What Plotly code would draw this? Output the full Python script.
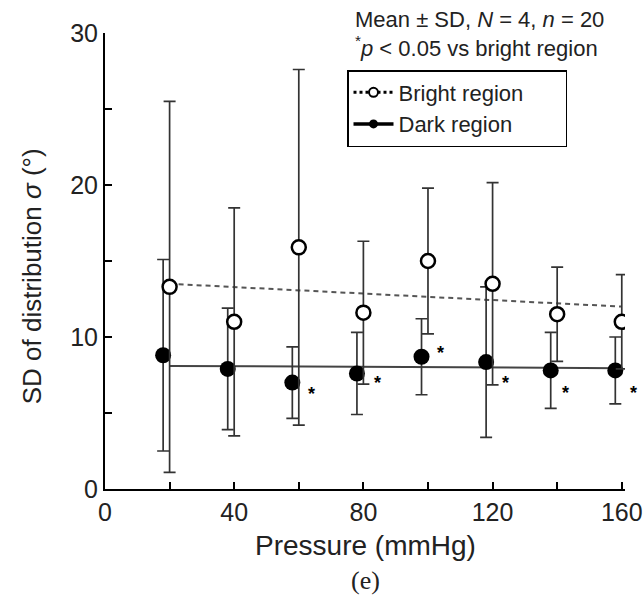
import plotly.graph_objects as go

# ---- data ----
pressure = [20, 40, 60, 80, 100, 120, 140, 160]
bright_mean = [13.3, 11.0, 15.9, 11.6, 15.0, 13.5, 11.5, 11.0]
bright_sd = [12.2, 7.5, 11.7, 4.7, 4.8, 6.65, 3.1, 3.1]
dark_mean = [8.8, 7.9, 7.0, 7.6, 8.7, 8.35, 7.8, 7.8]
dark_sd = [6.3, 4.0, 2.35, 2.7, 2.5, 4.95, 2.5, 2.2]
significant = [False, False, True, True, True, True, True, True]
fit_x = [20, 160]
bright_fit = [13.5, 12.0]
dark_fit = [8.1, 7.95]

x_tickvals = [0, 40, 80, 120, 160]
x_ticktext = ["0", "40", "80", "120", "160"]
y_tickvals = [0, 10, 20, 30]
y_ticktext = ["0", "10", "20", "30"]

# style constants
DARK_DX = -2.0
star_xshift = [0, 0, 19, 21, 19, 19, 15, 18]
star_yshift = [0, 0, -11, -10, 4, -21, -23, -23]
FONT = "Liberation Sans, Arial, sans-serif"
TXT = "#222222"
PAD = "&nbsp;" * 6

x_dark = [p + DARK_DX for p in pressure]

fig = go.Figure()

# regression / trend lines
fig.add_trace(go.Scatter(x=fit_x, y=bright_fit, mode="lines",
                         line=dict(color="#555555", width=2, dash="5px,4px"),
                         showlegend=False, hoverinfo="skip"))
fig.add_trace(go.Scatter(x=fit_x, y=dark_fit, mode="lines",
                         line=dict(color="#444444", width=2),
                         showlegend=False, hoverinfo="skip"))

# dark region points with SD bars
fig.add_trace(go.Scatter(x=x_dark, y=dark_mean, mode="markers",
                         marker=dict(color="black", size=16, symbol="circle"),
                         error_y=dict(type="data", array=dark_sd, visible=True,
                                      color="#333333", thickness=1.7, width=6),
                         showlegend=False))
# bright region points with SD bars
fig.add_trace(go.Scatter(x=pressure, y=bright_mean, mode="markers",
                         marker=dict(color="white", size=14, symbol="circle",
                                     line=dict(color="black", width=2.5)),
                         error_y=dict(type="data", array=bright_sd, visible=True,
                                      color="#333333", thickness=1.7, width=6),
                         showlegend=False))

# legend-only traces
fig.add_trace(go.Scatter(x=[None], y=[None], mode="lines+markers", name="Bright region" + PAD,
                         line=dict(color="black", width=3, dash="dot"),
                         marker=dict(color="white", size=9, line=dict(color="black", width=2))))
fig.add_trace(go.Scatter(x=[None], y=[None], mode="lines+markers", name="Dark region" + PAD,
                         line=dict(color="black", width=3.5),
                         marker=dict(color="black", size=9)))

annotations = []
for xd, ym, sig, dx, dy in zip(x_dark, dark_mean, significant, star_xshift, star_yshift):
    if sig:
        annotations.append(dict(x=xd, y=ym, xref="x", yref="y", text="<b>*</b>",
                                showarrow=False, xshift=dx, yshift=dy,
                                font=dict(family=FONT, size=18, color="black")))

annotations += [
    dict(x=0.477, y=0.9975, xref="paper", yref="paper", xanchor="left", yanchor="middle",
         align="left",
         text="Mean ± SD, <i>N</i> = 4, <i>n</i> = 20<br><sup>*</sup><i>p</i> &lt; 0.05 vs bright region",
         showarrow=False, font=dict(family=FONT, size=22, color=TXT)),
    dict(x=-0.14, y=0.467, xref="paper", yref="paper", xanchor="center", yanchor="middle",
         text="SD of distribution <i>σ</i> (°)", textangle=-90, showarrow=False,
         font=dict(family=FONT, size=26, color=TXT)),
    dict(x=0.5, y=-0.123, xref="paper", yref="paper", xanchor="center", yanchor="middle",
         text="Pressure (mmHg)", showarrow=False,
         font=dict(family=FONT, size=28, color=TXT)),
    dict(x=0.5, y=-0.2, xref="paper", yref="paper", xanchor="center", yanchor="middle",
         text="(e)", showarrow=False,
         font=dict(family="Liberation Serif, Times New Roman, serif", size=26, color=TXT)),
]

fig.update_layout(
    width=643, height=605,
    margin=dict(l=105, r=18, t=33, b=116, autoexpand=False),
    paper_bgcolor="white", plot_bgcolor="white",
    font=dict(family=FONT, size=22, color=TXT),
    showlegend=True,
    legend=dict(xref="container", yref="container", x=347/643, y=1-70/605,
                xanchor="left", yanchor="top",
                bgcolor="white", bordercolor="black", borderwidth=1.5,
                font=dict(family=FONT, size=22, color=TXT),
                tracegroupgap=0, itemwidth=40),
    annotations=annotations,
    xaxis=dict(range=[0, 161], tickvals=x_tickvals, ticktext=x_ticktext,
               ticks="inside", ticklen=7, tickwidth=2, tickcolor="black",
               minor=dict(ticks="inside", ticklen=7, tickwidth=2, tickcolor="black",
                          tick0=0, dtick=20),
               showline=True, linecolor="black", linewidth=2,
               showgrid=False, zeroline=False,
               tickfont=dict(family=FONT, size=25, color=TXT)),
    yaxis=dict(range=[0, 30], tickvals=y_tickvals, ticktext=y_ticktext,
               ticks="inside", ticklen=7, tickwidth=2, tickcolor="black",
               minor=dict(ticks="inside", ticklen=7, tickwidth=2, tickcolor="black",
                          tick0=0, dtick=5),
               showline=True, linecolor="black", linewidth=2,
               showgrid=False, zeroline=False,
               tickfont=dict(family=FONT, size=25, color=TXT)),
)

fig.write_html("out.html")
